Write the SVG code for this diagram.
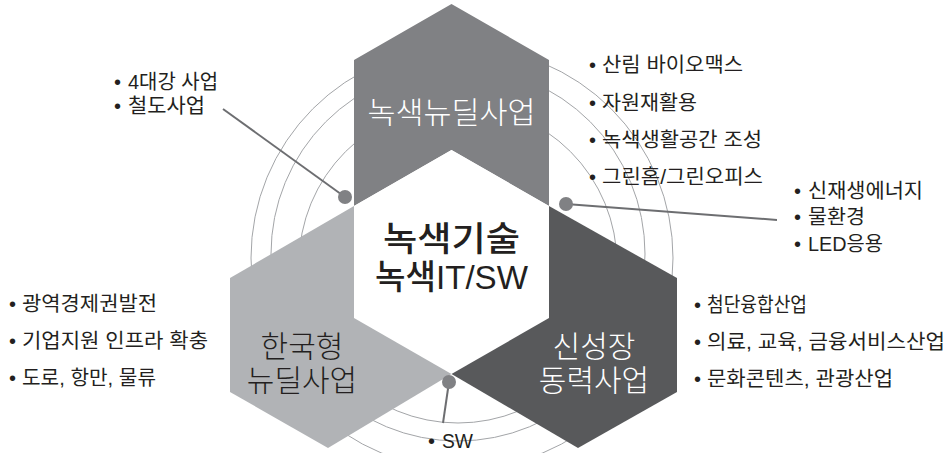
<svg xmlns="http://www.w3.org/2000/svg" width="950" height="453" viewBox="0 0 950 453">
<style>
.ring{fill:none;stroke:#a3a5a8;stroke-width:1}
.lst{font-family:"Liberation Sans","Noto Sans CJK KR",sans-serif;font-size:20px;fill:#231f20}
.lbl{font-family:"Liberation Sans","Noto Sans CJK KR",sans-serif;font-size:30px;font-weight:300;text-anchor:middle}
.ctr{font-family:"Liberation Sans","Noto Sans CJK KR",sans-serif;font-size:34px;font-weight:500;fill:#231f20;text-anchor:middle}
.ln{stroke:#6d6e71;stroke-width:2;fill:none}
.dot{fill:#808184}
</style>
<rect width="950" height="453" fill="#ffffff"/>
<g id="rings">
<circle class="ring" cx="458" cy="264" r="159"/>
<circle class="ring" cx="458" cy="254" r="187"/>
<circle class="ring" cx="462" cy="258" r="211"/>
</g>
<g id="green-newdeal">
<polygon points="451.5,4 549,60 549,206 451.5,150 354,206 354,60" fill="#808184"/>
<text class="lbl" x="451.5" y="123" fill="#ffffff" textLength="168" lengthAdjust="spacingAndGlyphs">녹색뉴딜사업</text>
</g>
<g id="korean-newdeal">
<polygon points="230,278 354,206 451.5,262 451.5,374 328,448 230,392" fill="#b1b3b6"/>
</g>
<g id="growth-engine">
<polygon points="549,206 677,278 677,392 578,448 451.5,374 451.5,262" fill="#58595b"/>
</g>
<g id="green-tech">
<polygon points="451.5,150 549,206 549,318 451.5,374 354,318 354,206" fill="#ffffff"/>
<text class="ctr"><tspan x="451.5" y="251" textLength="137" lengthAdjust="spacingAndGlyphs">녹색기술</tspan><tspan x="451.5" y="289" textLength="153" lengthAdjust="spacingAndGlyphs">녹색IT/SW</tspan></text>
</g>
<g id="korean-newdeal-label">
<text class="lbl" fill="#231f20"><tspan x="302" y="357">한국형</tspan><tspan x="302" y="391">뉴딜사업</tspan></text>
</g>
<g id="growth-engine-label">
<text class="lbl" fill="#ffffff"><tspan x="594" y="357">신성장</tspan><tspan x="594" y="391">동력사업</tspan></text>
</g>
<g id="connectors">
<line class="ln" x1="223" y1="109" x2="345" y2="197"/>
<line class="ln" x1="566" y1="204" x2="777" y2="220"/>
<line class="ln" x1="449" y1="382" x2="443" y2="423"/>
<circle class="dot" cx="345" cy="197" r="7"/>
<circle class="dot" cx="566" cy="204" r="7"/>
<circle class="dot" cx="449" cy="382" r="7"/>
</g>
<g id="list-top-left">
<text class="lst" x="114" y="89">•</text>
<text class="lst" x="128" y="89" textLength="90" lengthAdjust="spacingAndGlyphs">4대강 사업</text>
<text class="lst" x="114" y="113">•</text>
<text class="lst" x="128" y="113" textLength="77" lengthAdjust="spacingAndGlyphs">철도사업</text>
</g>
<g id="list-left">
<text class="lst" x="9" y="311">•</text>
<text class="lst" x="22" y="311" textLength="135" lengthAdjust="spacingAndGlyphs">광역경제권발전</text>
<text class="lst" x="9" y="348">•</text>
<text class="lst" x="22" y="348" textLength="186" lengthAdjust="spacingAndGlyphs">기업지원 인프라 확충</text>
<text class="lst" x="9" y="385">•</text>
<text class="lst" x="22" y="385" textLength="134" lengthAdjust="spacingAndGlyphs">도로, 항만, 물류</text>
</g>
<g id="list-top-right">
<text class="lst" x="589" y="72">•</text>
<text class="lst" x="602" y="72" textLength="141" lengthAdjust="spacingAndGlyphs">산림 바이오맥스</text>
<text class="lst" x="589" y="110">•</text>
<text class="lst" x="602" y="110" textLength="95" lengthAdjust="spacingAndGlyphs">자원재활용</text>
<text class="lst" x="589" y="147">•</text>
<text class="lst" x="602" y="147" textLength="160" lengthAdjust="spacingAndGlyphs">녹색생활공간 조성</text>
<text class="lst" x="589" y="184">•</text>
<text class="lst" x="602" y="184" textLength="161" lengthAdjust="spacingAndGlyphs">그린홈/그린오피스</text>
</g>
<g id="list-right">
<text class="lst" x="794" y="198">•</text>
<text class="lst" x="808" y="198" textLength="115" lengthAdjust="spacingAndGlyphs">신재생에너지</text>
<text class="lst" x="794" y="224">•</text>
<text class="lst" x="808" y="224" textLength="57" lengthAdjust="spacingAndGlyphs">물환경</text>
<text class="lst" x="794" y="251">•</text>
<text class="lst" x="808" y="251" textLength="75" lengthAdjust="spacingAndGlyphs">LED응용</text>
</g>
<g id="list-bottom-right">
<text class="lst" x="694" y="312">•</text>
<text class="lst" x="707" y="312" textLength="100" lengthAdjust="spacingAndGlyphs">첨단융합산업</text>
<text class="lst" x="694" y="349">•</text>
<text class="lst" x="707" y="349" textLength="238" lengthAdjust="spacingAndGlyphs">의료, 교육, 금융서비스산업</text>
<text class="lst" x="694" y="386">•</text>
<text class="lst" x="707" y="386" textLength="186" lengthAdjust="spacingAndGlyphs">문화콘텐츠, 관광산업</text>
</g>
<g id="list-bottom">
<text class="lst" x="428" y="448">•</text>
<text class="lst" x="442" y="448" textLength="31" lengthAdjust="spacingAndGlyphs">SW</text>
</g>
</svg>
